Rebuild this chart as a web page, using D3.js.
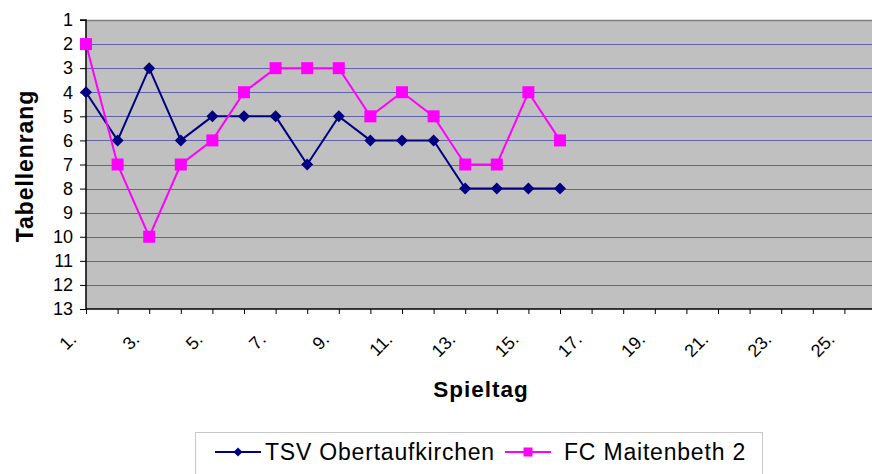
<!DOCTYPE html>
<html><head><meta charset="utf-8">
<script src="https://cdn.jsdelivr.net/npm/d3@7"></script>
<style>
html,body{margin:0;padding:0;background:#fff;overflow:hidden;}
svg{display:block;font-family:"Liberation Sans",Arial,sans-serif;}
</style></head>
<body>
<svg id="chart" width="872" height="474"></svg>
<script>
const categories = ["1.","2.","3.","4.","5.","6.","7.","8.","9.","10.","11.","12.","13.","14.","15.","16.","17.","18.","19.","20.","21.","22.","23.","24.","25.","26."];
const tickLabels = ["1.","3.","5.","7.","9.","11.","13.","15.","17.","19.","21.","23.","25."];
const rankTicks = [1,2,3,4,5,6,7,8,9,10,11,12,13];
const tsvValues = [4,6,3,6,5,5,5,7,5,6,6,6,8,8,8,8];
const fcValues  = [2,7,10,7,6,4,3,3,3,5,4,5,7,7,4,6];
const seriesNames = ["TSV Obertaufkirchen","FC Maitenbeth 2"];

const svg = d3.select("#chart");
const L = 86, R = 876, T = 20, B = 309;

const x = d3.scalePoint().domain(categories).range([L, R]);
const y = d3.scaleLinear().domain([1, 13]).range([T, B]);

// plot background
svg.append("rect").attr("x", L).attr("y", T).attr("width", R - L).attr("height", B - T).attr("fill", "#c0c0c0");
svg.append("line").attr("x1", L).attr("x2", R).attr("y1", T + 0.5).attr("y2", T + 0.5).attr("stroke", "#808080").attr("stroke-width", 1.5);

// gridlines
svg.append("g").selectAll("line").data(rankTicks.slice(1, -1)).join("line")
  .attr("x1", L).attr("x2", R)
  .attr("y1", d => Math.round(y(d)) + 0.5).attr("y2", d => Math.round(y(d)) + 0.5)
  .attr("stroke", "#6262a8").attr("stroke-width", 1);

// y axis
const yAxis = svg.append("g").attr("transform", `translate(${L},0)`)
  .call(d3.axisLeft(y).tickValues(rankTicks).tickSize(6).tickPadding(7).tickFormat(d3.format("d")));
yAxis.selectAll("text").attr("font-size", 18).attr("fill", "#000").attr("font-family", "Liberation Sans, Arial, sans-serif");
yAxis.select(".domain").attr("stroke", "#000").attr("stroke-width", 1.5).attr("d", `M-6,${T}H0V${B}`);
yAxis.selectAll(".tick line").attr("stroke", "#000");

// x axis
const xAxis = svg.append("g").attr("transform", `translate(0,${B})`)
  .call(d3.axisBottom(x).tickSize(5).tickFormat(""));
xAxis.select(".domain").attr("stroke", "#000").attr("stroke-width", 1.5).attr("d", `M${L},0H${R}`);
xAxis.selectAll(".tick line").attr("stroke", "#000");

svg.append("g").selectAll("text").data(tickLabels).join("text")
  .attr("transform", d => `translate(${x(d) - 13},${B + 27}) rotate(-45)`)
  .attr("text-anchor", "end").attr("dy", "0.35em")
  .attr("font-size", 18).attr("fill", "#000")
  .text(d => d);

// axis titles
svg.append("text").attr("transform", `translate(33,166) rotate(-90)`)
  .attr("text-anchor", "middle").attr("font-size", 23).attr("font-weight", "bold")
  .attr("letter-spacing", "0.9px").text("Tabellenrang");
svg.append("text").attr("x", 481).attr("y", 397)
  .attr("text-anchor", "middle").attr("font-size", 22.5).attr("font-weight", "bold")
  .attr("letter-spacing", "1px").text("Spieltag");

// series
const line = d3.line().x((d, i) => x(categories[i])).y(d => y(d));

function drawSeries(vals, color, shape) {
  const g = svg.append("g");
  g.append("path").datum(vals).attr("d", line).attr("fill", "none").attr("stroke", color).attr("stroke-width", 2);
  if (shape === "diamond") {
    g.selectAll("path.m").data(vals).join("path").attr("class", "m")
      .attr("d", d3.symbol().type(d3.symbolSquare).size(72)())
      .attr("transform", (d, i) => `translate(${x(categories[i])},${y(d)}) rotate(45)`)
      .attr("fill", color);
  } else {
    g.selectAll("rect.m").data(vals).join("rect").attr("class", "m")
      .attr("x", (d, i) => x(categories[i]) - 6).attr("y", d => y(d) - 6)
      .attr("width", 12).attr("height", 12).attr("fill", color);
  }
}
drawSeries(tsvValues, "#000080", "diamond");
drawSeries(fcValues, "#ff00ff", "square");

// legend
const lg = svg.append("g");
lg.append("rect").attr("x", 195.5).attr("y", 432.5).attr("width", 567).attr("height", 60)
  .attr("fill", "#fff").attr("stroke", "#c8c8c8").attr("stroke-width", 1);
const items = [
  {name: seriesNames[0], color: "#000080", shape: "diamond", x0: 215, tx: 265},
  {name: seriesNames[1], color: "#ff00ff", shape: "square", x0: 505, tx: 564}
];
items.forEach(it => {
  lg.append("line").attr("x1", it.x0).attr("x2", it.x0 + 46).attr("y1", 452).attr("y2", 452)
    .attr("stroke", it.color).attr("stroke-width", 2);
  const cx = it.x0 + 23;
  if (it.shape === "diamond") {
    lg.append("path").attr("d", d3.symbol().type(d3.symbolSquare).size(40)())
      .attr("transform", `translate(${cx},452) rotate(45)`).attr("fill", it.color);
  } else {
    lg.append("rect").attr("x", cx - 4.5).attr("y", 447.5).attr("width", 9).attr("height", 9).attr("fill", it.color);
  }
  lg.append("text").attr("x", it.tx).attr("y", 460).attr("font-size", 23)
    .attr("letter-spacing", "0.8px").attr("fill", "#000").text(it.name);
});
</script>
</body></html>
